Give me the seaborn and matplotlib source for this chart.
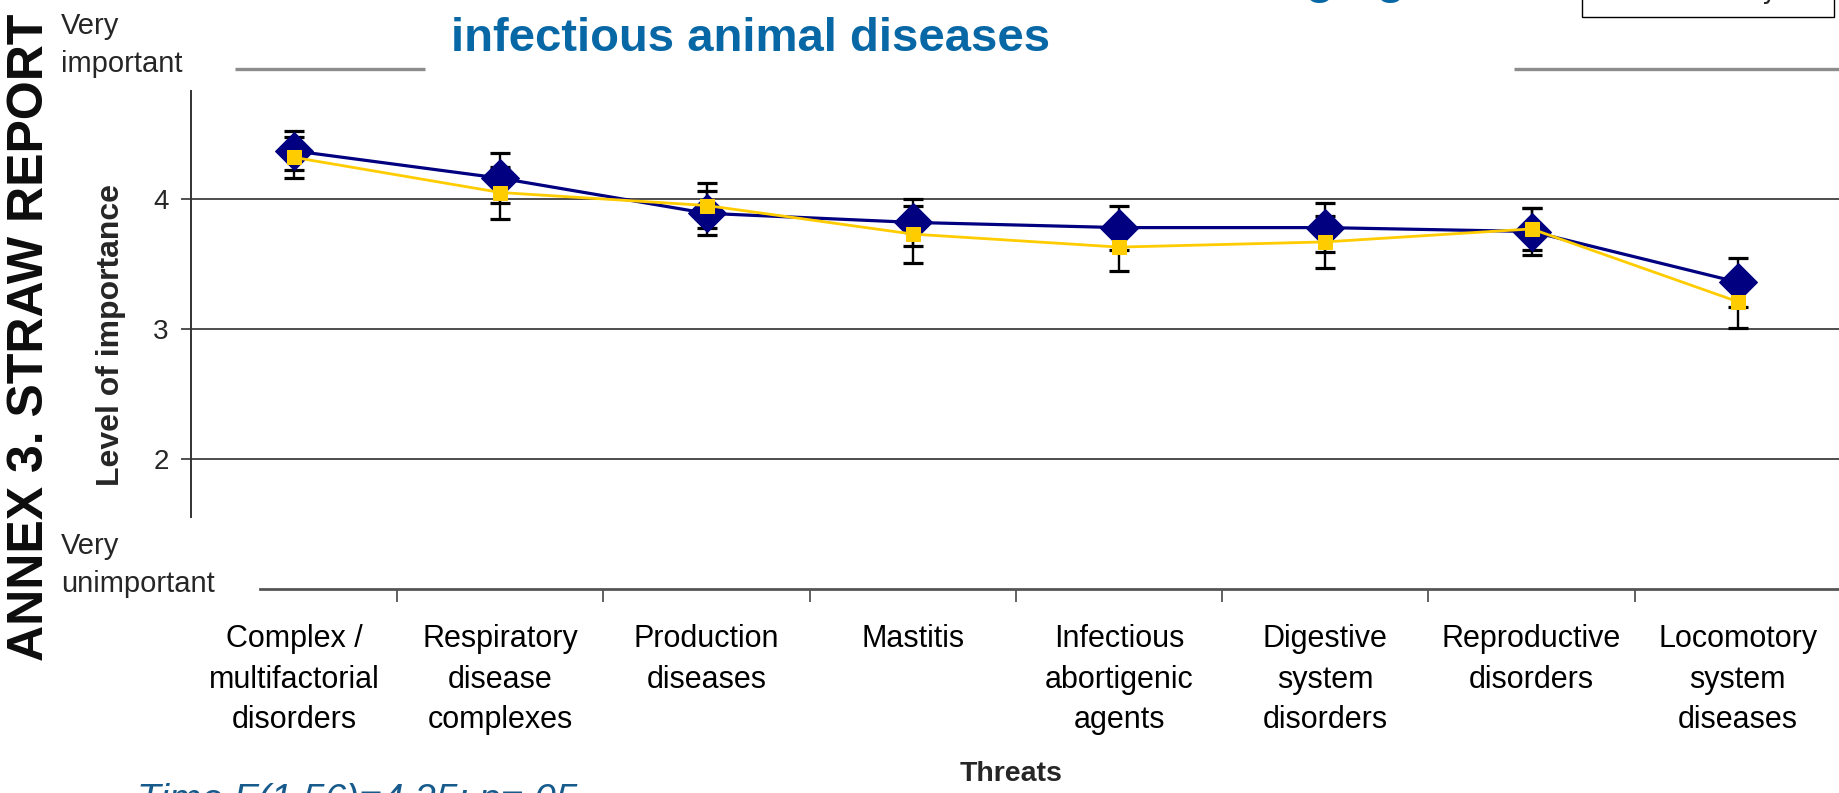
import numpy as np
import pandas as pd
import matplotlib
matplotlib.use("Agg")
import matplotlib.pyplot as plt
from matplotlib import font_manager
from matplotlib.lines import Line2D
from matplotlib.ticker import FixedLocator
import seaborn as sns

# ---- data -------------------------------------------------------------
threats = [
    "Complex /\nmultifactorial\ndisorders",
    "Respiratory\ndisease\ncomplexes",
    "Production\ndiseases",
    "Mastitis",
    "Infectious\nabortigenic\nagents",
    "Digestive\nsystem\ndisorders",
    "Reproductive\ndisorders",
    "Locomotory\nsystem\ndiseases",
]
series_names = ["Current", "10-15 year"]
current_mean = [4.37, 4.16, 3.89, 3.82, 3.78, 3.78, 3.75, 3.36]
current_err = [0.15, 0.19, 0.17, 0.18, 0.17, 0.19, 0.18, 0.19]
future_mean = [4.32, 4.05, 3.95, 3.73, 3.63, 3.67, 3.77, 3.21]
future_err = [0.16, 0.20, 0.175, 0.22, 0.18, 0.20, 0.16, 0.20]
y_ticks = [2, 3, 4]

NAVY = "#000080"
GOLD = "#FFCC00"
TITLE_BLUE = "#0868A6"
NOTE_BLUE = "#175A8C"

pos = np.arange(len(threats))
df = pd.DataFrame({
    "pos": np.concatenate([pos, pos]),
    "score": current_mean + future_mean,
    "err": current_err + future_err,
    "time": [series_names[0]] * len(pos) + [series_names[1]] * len(pos),
})

sns.set_theme(style="white")
plt.rcParams["font.family"] = ["Liberation Sans", "DejaVu Sans"]

# condensed face for the category and scale-end labels, if it is installed
installed = {f.name for f in font_manager.fontManager.ttflist}
if "Liberation Sans Narrow" in installed:
    label_family = ["Liberation Sans Narrow", "DejaVu Sans"]
    cat_size, cat_spacing, end_size, end_spacing = 25, 1.3, 24, 1.3
else:
    label_family = ["Liberation Sans", "DejaVu Sans"]
    cat_size, cat_spacing, end_size, end_spacing = 22, 1.45, 21, 1.45

W, H = 1840, 793
fig = plt.figure(figsize=(W / 100, H / 100), dpi=100)
ax = fig.add_axes([191 / W, 1 - 589 / H, 1650 / W, 520 / H])

# error bars sit underneath the markers
for name in series_names:
    sub = df[df["time"] == name]
    ax.errorbar(sub["pos"], sub["score"], yerr=sub["err"], fmt="none",
                ecolor="black", elinewidth=1.7, capsize=7, capthick=2.3,
                zorder=2)

cur = df[df["time"] == series_names[0]]
fut = df[df["time"] == series_names[1]]
sns.lineplot(data=cur, x="pos", y="score", ax=ax, color=NAVY, lw=2.3,
             marker="D", markersize=19, mec=NAVY, mfc=NAVY,
             sort=False, zorder=3, legend=False)
sns.lineplot(data=fut, x="pos", y="score", ax=ax, color=GOLD, lw=2.0,
             marker="s", markersize=10.5, mec=GOLD, mfc=GOLD,
             sort=False, zorder=4, legend=False)

# ---- axes -------------------------------------------------------------
ax.set_xlim(-0.5, len(threats) - 0.5)
ax.set_ylim(1, 5)
ax.set_yticks(y_ticks)
ax.set_yticklabels([str(t) for t in y_ticks])
ax.set_xticks(pos)
ax.set_xticklabels(threats, fontsize=cat_size, linespacing=cat_spacing,
                   family=label_family)
ax.xaxis.set_minor_locator(FixedLocator(pos[:-1] + 0.5))
ax.tick_params(axis="x", which="major", length=0, pad=25.5, colors="black")
ax.tick_params(axis="x", which="minor", length=9, width=1.3,
               color="#555555", direction="out", bottom=True)
ax.tick_params(axis="y", which="major", length=7, width=1.2,
               color="#333333", pad=9, labelsize=20, left=True)

for y in y_ticks:
    ax.axhline(y, color="#4D4D4D", lw=1.4, zorder=1)

for side in ("top", "right"):
    ax.spines[side].set_visible(False)
ax.spines["left"].set_color("#333333")
ax.spines["left"].set_linewidth(1.4)
ax.spines["left"].set_bounds(1.555, 4.83)
ax.spines["bottom"].set_color("#555555")
ax.spines["bottom"].set_linewidth(2.0)
ax.spines["bottom"].set_bounds(-0.165, len(threats) - 0.5)

# "very important" reference line at the top of the scale
ax.hlines(5, -0.287, 0.635, color="#8C8C8C", lw=2.4, clip_on=False)
ax.hlines(5, 5.915, len(threats) - 0.5, color="#8C8C8C", lw=2.4, clip_on=False)

ax.set_ylabel("Level of importance", fontsize=23, fontweight="bold")
ax.yaxis.set_label_coords(-0.0394, 0.4885)
ax.set_xlabel("Threats", fontsize=20.5, fontweight="bold")
ax.xaxis.set_label_coords(0.497, -0.33)

# ---- surrounding text ---------------------------------------------------
fig.text(61 / W, 1 - 72 / H, "Very\nimportant", fontsize=end_size,
         family=label_family, ha="left", va="baseline", linespacing=end_spacing)
fig.text(61 / W, 1 - 592 / H, "Very\nunimportant", fontsize=end_size,
         family=label_family, ha="left", va="baseline", linespacing=end_spacing)
fig.text(30 / W, 1 - 337 / H, "ANNEX 3. STRAW REPORT", rotation=90,
         fontsize=36, fontweight="bold", color="#0D0D0D",
         ha="center", va="center")
fig.text(1405 / W, 1 + 7 / H, "Threats to cattle health and welfare other than emerging",
         fontsize=34, fontweight="bold", color=TITLE_BLUE, ha="right",
         va="baseline")
fig.text(751 / W, 1 - 51 / H, "infectious animal diseases", fontsize=34,
         fontweight="bold", color=TITLE_BLUE, ha="center", va="baseline")
fig.text(137 / W, 1 - 811 / H, "Time F(1,56)=4.25; p=.05", fontsize=28,
         style="italic", color=NOTE_BLUE, ha="left", va="baseline")

handles = [
    Line2D([], [], color=NAVY, lw=2.3, marker="D", markersize=14, mfc=NAVY, mec=NAVY),
    Line2D([], [], color=GOLD, lw=2.0, marker="s", markersize=10.5, mfc=GOLD, mec=GOLD),
]
leg = fig.legend(handles, series_names, loc="lower right",
                 bbox_to_anchor=(1834 / W, 1 - 17 / H),
                 bbox_transform=fig.transFigure, borderaxespad=0,
                 prop={"family": "DejaVu Sans", "size": 19},
                 frameon=True, fancybox=False, framealpha=1,
                 edgecolor="black", borderpad=0.5, handlelength=2.2,
                 handletextpad=0.9, labelspacing=0.4)
leg.get_frame().set_linewidth(1.0)

fig.savefig("out.png", dpi=100, facecolor="white")
